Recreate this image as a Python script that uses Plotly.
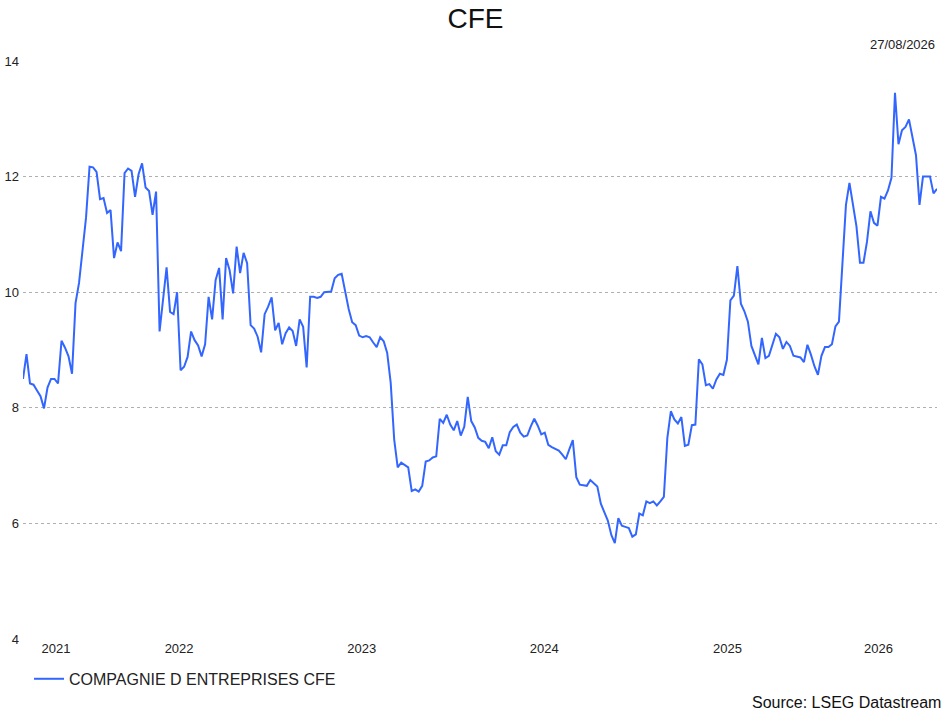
import pandas as pd
import plotly.graph_objects as go

# Weekly closing prices, first to last week
prices_part1 = [8.50, 8.93, 8.42, 8.40, 8.30, 8.20, 7.99, 8.35, 8.50, 8.50,
                8.42, 9.16, 9.04, 8.89, 8.59, 9.81, 10.16, 10.77, 11.29, 12.17,
                12.16, 12.08, 11.61, 11.63, 11.37, 11.42, 10.59, 10.86, 10.71, 12.06,
                12.14, 12.10, 11.65, 12.04, 12.23, 11.81, 11.75, 11.34, 11.74, 9.32,
                9.92, 10.43, 9.66, 9.62, 10.00, 8.65, 8.71, 8.88, 9.32, 9.17,
                9.08, 8.89, 9.10, 9.92, 9.53, 10.21, 10.42, 9.53, 10.59, 10.38,
                9.98, 10.79, 10.33, 10.68, 10.50, 9.43, 9.37, 9.23, 8.96, 9.62,
                9.75, 9.91, 9.34, 9.47, 9.10, 9.29, 9.39, 9.33, 9.07, 9.53,
                9.40, 8.70, 9.92, 9.92, 9.90, 9.92, 10.00, 10.00, 10.01, 10.24]
prices_part2 = [10.30, 10.32, 9.98, 9.71, 9.48, 9.43, 9.25, 9.22, 9.24, 9.22,
                9.13, 9.05, 9.22, 9.15, 8.95, 8.43, 7.45, 6.97, 7.05, 7.01,
                6.97, 6.56, 6.59, 6.55, 6.65, 7.07, 7.09, 7.14, 7.16, 7.81,
                7.74, 7.88, 7.71, 7.61, 7.77, 7.52, 7.67, 8.19, 7.77, 7.66,
                7.48, 7.43, 7.41, 7.30, 7.49, 7.25, 7.19, 7.35, 7.35, 7.58,
                7.67, 7.71, 7.57, 7.50, 7.52, 7.68, 7.81, 7.69, 7.54, 7.57,
                7.36, 7.32, 7.29, 7.26, 7.19, 7.11, 7.28, 7.44, 6.80, 6.67,
                6.66, 6.65, 6.75, 6.70, 6.64, 6.34, 6.20, 6.05, 5.80, 5.66,
                6.09, 5.96, 5.94, 5.92, 5.77, 5.81, 6.17, 6.14, 6.38, 6.35]
prices_part3 = [6.38, 6.31, 6.38, 6.46, 7.48, 7.94, 7.80, 7.73, 7.84, 7.34,
                7.36, 7.70, 7.71, 8.84, 8.75, 8.39, 8.41, 8.33, 8.49, 8.59,
                8.57, 8.83, 9.86, 9.94, 10.45, 9.80, 9.67, 9.49, 9.07, 8.90,
                8.75, 9.21, 8.86, 8.90, 9.09, 9.28, 9.22, 9.02, 9.14, 9.07,
                8.90, 8.89, 8.87, 8.79, 9.09, 8.92, 8.72, 8.57, 8.90, 9.05,
                9.05, 9.10, 9.41, 9.49, 10.44, 11.51, 11.89, 11.48, 11.14, 10.51,
                10.51, 10.87, 11.40, 11.20, 11.15, 11.65, 11.62, 11.76, 11.98, 13.45,
                12.56, 12.80, 12.86, 12.99, 12.70, 12.37, 11.51, 12.00, 12.00, 12.00,
                11.71, 11.79]
prices = prices_part1 + prices_part2 + prices_part3

last_date = "2026-08-27"
dates = pd.date_range(end=last_date, periods=len(prices), freq="7D")

year_labels = ["2021", "2022", "2023", "2024", "2025", "2026"]
year_label_pos = ["2021-10-31", "2022-07-04", "2023-07-04", "2024-07-03",
                  "2025-07-04", "2026-05-02"]
y_ticks = [4, 6, 8, 10, 12, 14]

series_name = "COMPAGNIE D ENTREPRISES CFE"
title_text = "CFE"
date_text = "27/08/2026"
source_text = "Source: LSEG Datastream"

FONT = "Liberation Sans, Arial, sans-serif"
LINE_COLOR = "#3366ff"

fig = go.Figure()
fig.add_trace(go.Scatter(
    x=dates, y=prices, mode="lines", name=series_name,
    line=dict(color=LINE_COLOR, width=2),
))

fig.update_layout(
    width=951, height=712,
    margin=dict(l=23, r=14, t=61, b=73, autoexpand=False),
    paper_bgcolor="white", plot_bgcolor="white",
    font=dict(family=FONT, size=13, color="#222"),
    title=dict(text=title_text, x=0.5, xanchor="center", y=0.975, yanchor="middle",
               font=dict(size=28, color="#111", family=FONT)),
    showlegend=True,
    legend=dict(orientation="h", x=0.0066, xanchor="left", y=-0.069, yanchor="middle",
                font=dict(size=16, color="#222", family=FONT),
                bgcolor="rgba(0,0,0,0)"),
    xaxis=dict(
        range=[dates[0], dates[-1]],
        showgrid=False, zeroline=False, showline=False,
        tickmode="array", tickvals=year_label_pos, ticktext=year_labels,
        ticks="", ticklen=0, tickfont=dict(size=13, color="#222"),
        fixedrange=True, automargin=False,
    ),
    yaxis=dict(
        range=[4, 14], tickmode="array", tickvals=y_ticks,
        showgrid=True, gridcolor="#b0b0b0", griddash="dot", gridwidth=1,
        zeroline=False, showline=False, ticks="",
        tickfont=dict(size=13, color="#222"), ticklabelstandoff=3,
        fixedrange=True, automargin=False,
    ),
    annotations=[
        dict(text=date_text, xref="paper", yref="paper", x=1.0, y=1.029,
             xanchor="right", yanchor="middle", showarrow=False,
             font=dict(size=13, color="#222", family=FONT)),
        dict(text=source_text, xref="paper", yref="paper", x=1.0066, y=-0.1107,
             xanchor="right", yanchor="middle", showarrow=False,
             font=dict(size=16, color="#111", family=FONT)),
    ],
)

fig.write_html(
    "out.html",
    config={"displayModeBar": False},
    post_script="document.body.style.margin='0';document.body.style.overflow='hidden';",
)
